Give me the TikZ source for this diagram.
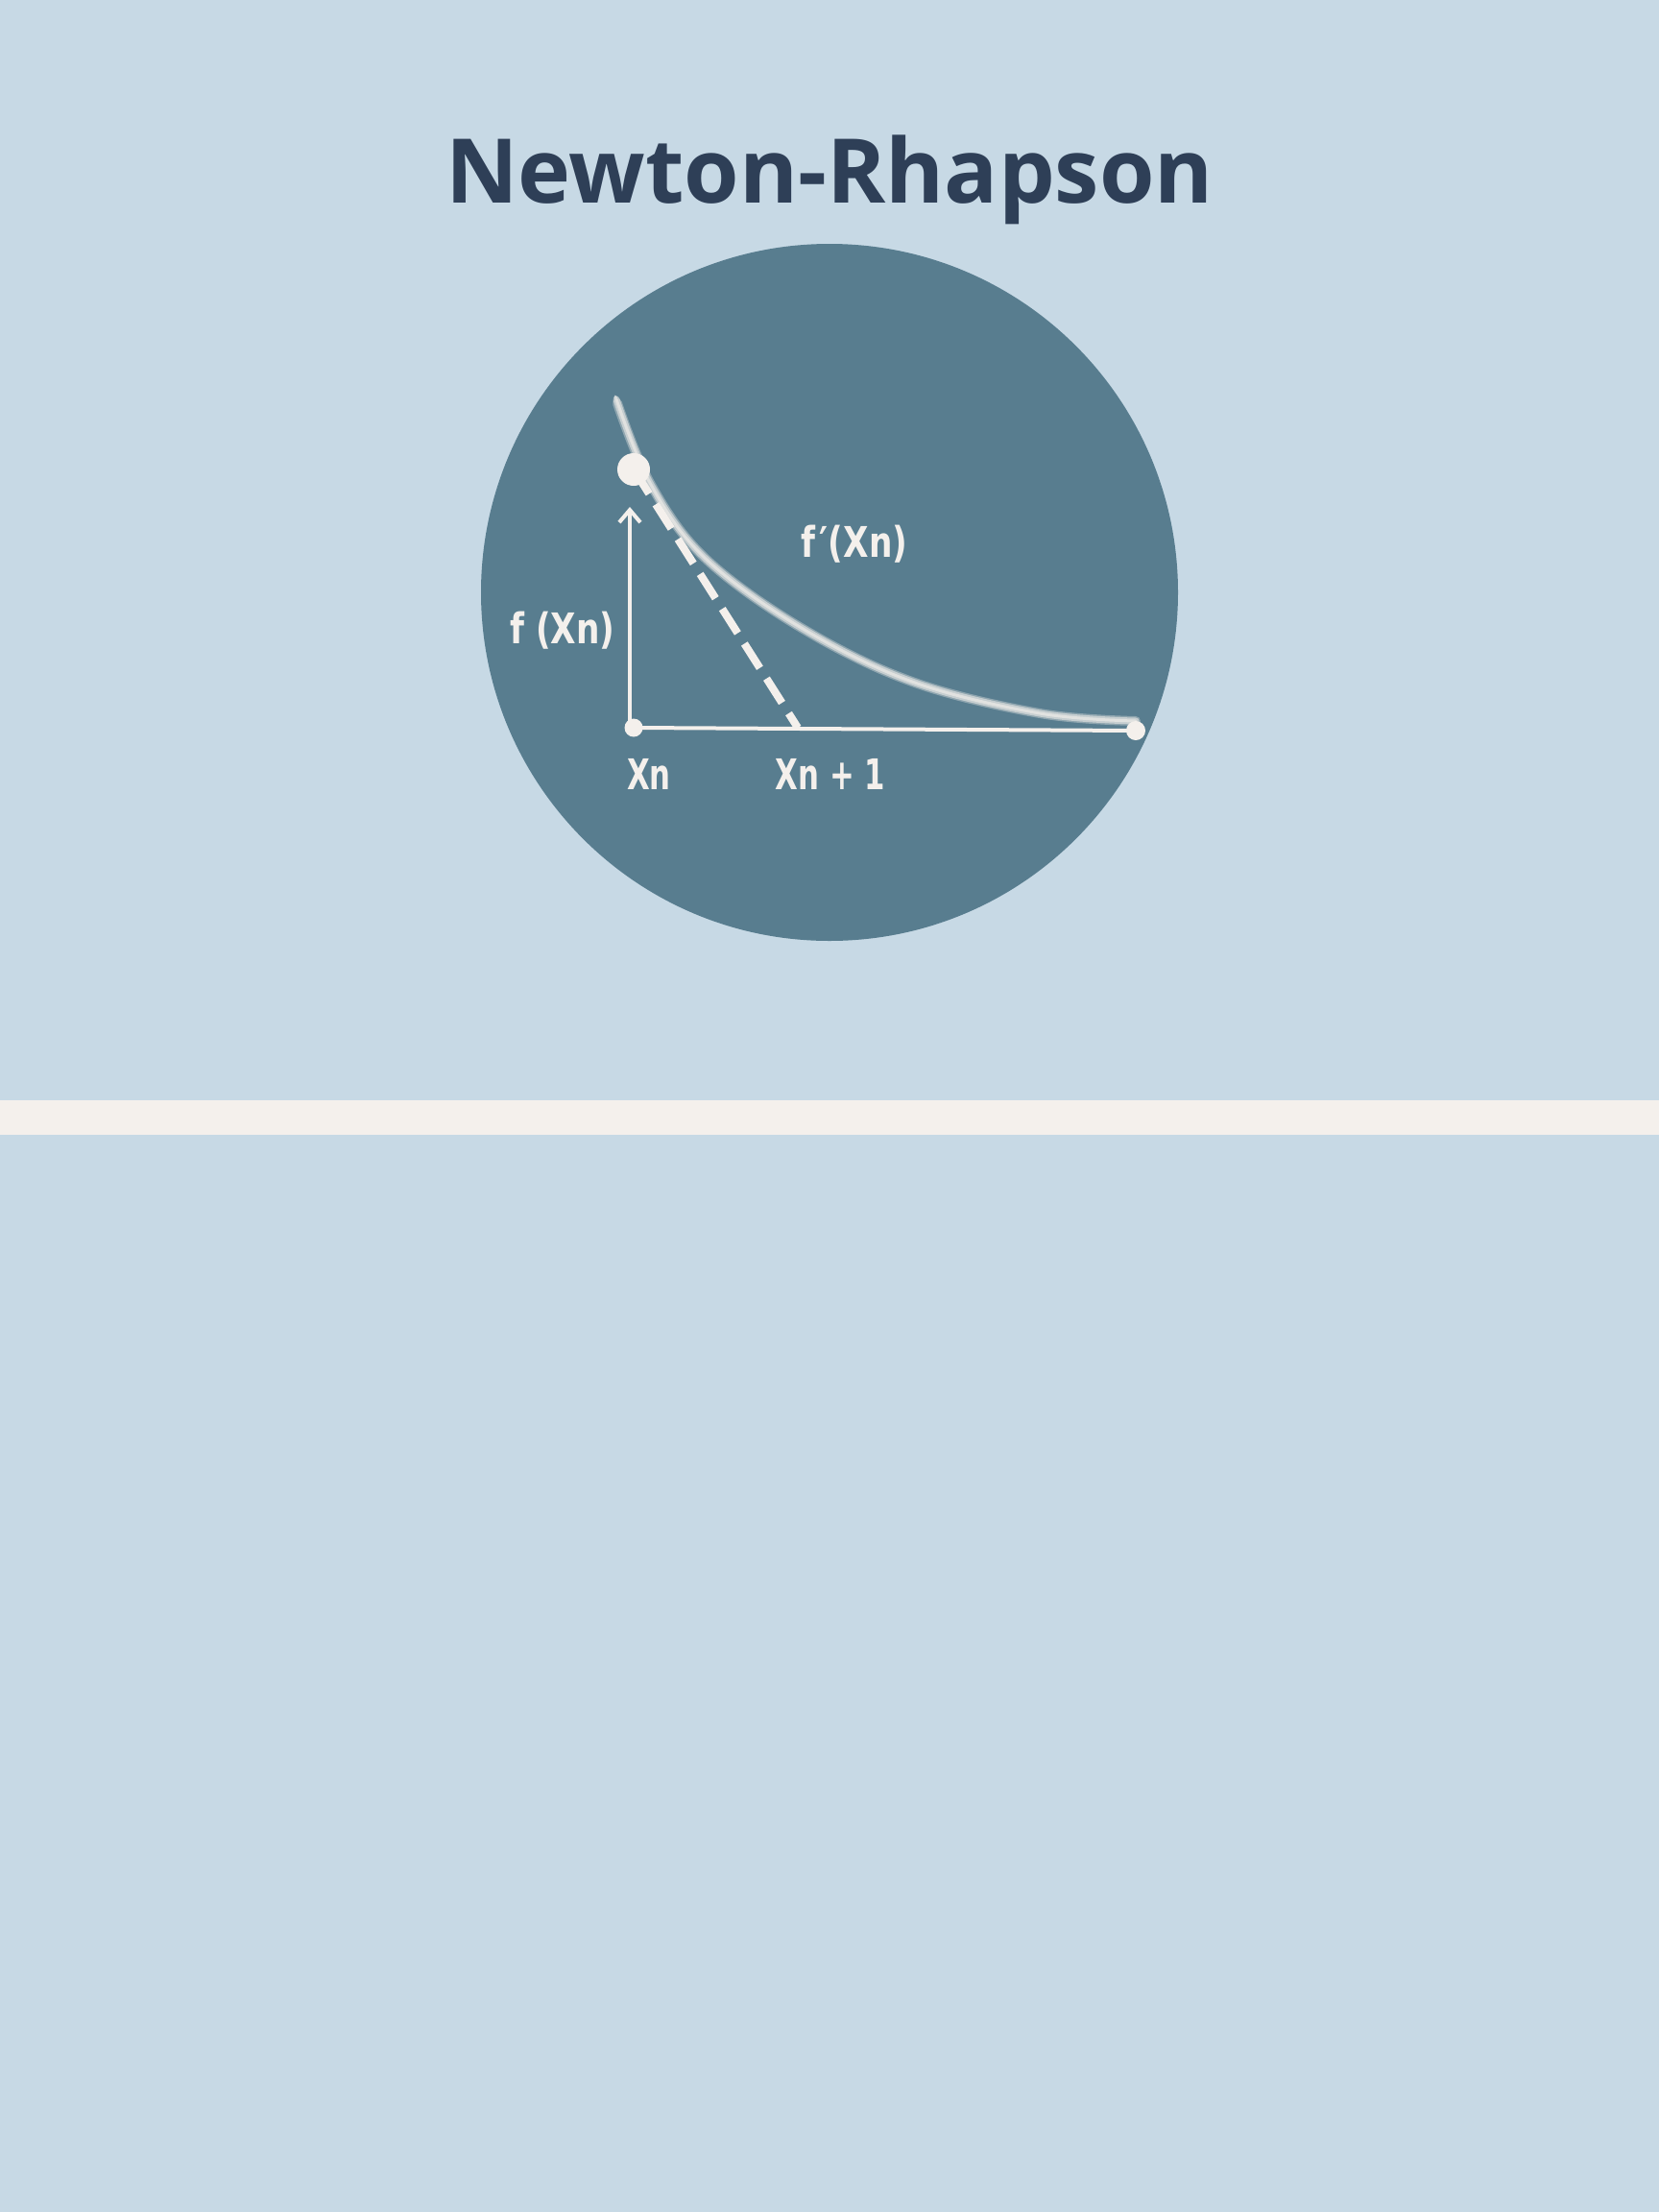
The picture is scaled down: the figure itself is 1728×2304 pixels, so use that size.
\documentclass[tikz,border=0pt]{standalone}
\usepackage{fontspec}
\setmainfont{Open Sans}
\newfontfamily\lblfont[FakeStretch=0.7]{DejaVu Sans}
\newfontfamily\lblfontw[FakeStretch=0.78]{DejaVu Sans}
\usetikzlibrary{arrows.meta}
\definecolor{bgc}{HTML}{C7D9E5}
\definecolor{bandc}{HTML}{F4F0EC}
\definecolor{circc}{HTML}{587D8F}
\definecolor{chalk}{HTML}{F4F0EC}
\definecolor{titlec}{HTML}{2E3F57}
\tikzset{
  titlestyle/.style={font=\fontsize{93}{110}\selectfont\bfseries, text=titlec, inner sep=0},
  lblsmall/.style={font=\lblfontw\fontsize{44}{50}\selectfont\bfseries, text=chalk, inner sep=0},
  lblbig/.style={font=\lblfont\fontsize{44}{50}\selectfont\bfseries, text=chalk, inner sep=0},
  dotnode/.style={circle, fill=chalk, inner sep=0},
  chalkline/.style={draw=chalk, line width=4pt},
}
\begin{document}
\begin{tikzpicture}[x=1pt,y=-1pt]
\useasboundingbox (0,0) rectangle (1728,2304);
\fill[bgc] (0,0) rectangle (1728,2304);
\fill[bandc] (0,1146) rectangle (1728,1182);
\fill[circc] (864,617) circle (363pt);
\node[titlestyle, anchor=base] (title) at (864,211) {Newton-Rhapson};
% curve (chalk)
\draw[chalk, line width=10pt, opacity=0.35, line cap=round] plot[smooth, tension=0.6] coordinates {(643,420) (677,503) (733,580) (833,653) (950,710) (1083,743) (1183,751)};
\draw[chalk, line width=7pt, opacity=0.55, line cap=round] plot[smooth, tension=0.6] coordinates {(642,416) (677,503) (733,580) (833,653) (950,710) (1083,743) (1183,751)};
\draw[chalk, line width=3pt, opacity=0.6, line cap=round] plot[smooth, tension=0.6] coordinates {(641,413) (677,503) (733,580) (833,653) (950,710) (1083,743) (1183,751)};
% points
\node[dotnode, minimum size=19pt] (xn) at (660,758) {};
\node[dotnode, minimum size=20pt] (rt) at (1183,761) {};
\node[dotnode, minimum size=34pt] (top) at (660,489) {};
\coordinate (xn1) at (831,758);
\coordinate (arrtip) at (656,528);
\coordinate (arrbase) at (656,758);
% axis
\draw[chalkline] (xn.center) -- (rt.center);
% arrow
\draw[chalkline, -{Straight Barb[length=13pt,width=22pt]}] (arrbase) -- (arrtip);
% tangent
\draw[draw=chalk, line width=8pt, dash pattern=on 30pt off 13pt] (top.center) -- (xn1);
% labels
\node[lblsmall, anchor=base] (lfx) at (586,670) {f (Xn)};
\node[lblsmall, anchor=base] (lfpx) at (890,580) {f\kern4pt′(Xn)};
\node[lblbig, anchor=base] (lxn) at (676,822) {Xn};
\node[lblbig, anchor=base] (lxn1) at (865,822) {Xn + 1};
\end{tikzpicture}
\end{document}
